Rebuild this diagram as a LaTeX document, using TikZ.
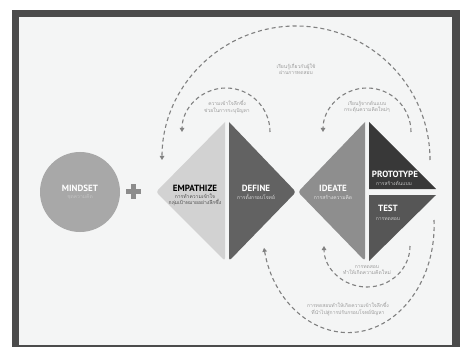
\documentclass[tikz,border=0pt]{standalone}
\usepackage{fontspec}
\setmainfont{PT Sans}
\newfontfamily\thaifont[Script=Thai]{Loma}
\usetikzlibrary{arrows.meta}

\definecolor{framegray}{HTML}{4B4B4B}
\definecolor{paper}{HTML}{F4F5F5}
\definecolor{loopgray}{HTML}{808080}
\definecolor{notegray}{HTML}{9A9A9A}
\definecolor{mindgray}{HTML}{A8A8A8}
\definecolor{plusgray}{HTML}{8C8C8C}
\definecolor{empgray}{HTML}{D2D2D2}
\definecolor{defgray}{HTML}{626262}
\definecolor{ideagray}{HTML}{8E8E8E}
\definecolor{protogray}{HTML}{383838}
\definecolor{testgray}{HTML}{565656}

\tikzset{
  loopline/.style={draw=loopgray, line width=1.1pt, dash pattern=on 4pt off 3pt},
  looparrow/.style={loopline, -{Triangle[length=4pt,width=4.5pt]}},
  phase/.style={font=\bfseries\fontsize{9}{9}\selectfont, inner sep=0pt},
  sub/.style={font=\thaifont\fontsize{5}{6.5}\selectfont, align=center, inner sep=0pt},
  note/.style={sub, text=notegray},
}

\begin{document}
\begin{tikzpicture}[x=1pt,y=-1pt]
\useasboundingbox (0,0) rectangle (462,347);

% frame
\fill[white] (0,0) rectangle (462,347);
\fill[framegray] (12,10) rectangle (460,347);
\fill[paper] (19,17) rectangle (452,345);

% mindset and plus
\fill[mindgray] (80,192) circle[radius=40];
\fill[plusgray] (126,189) rectangle (141,194);
\fill[plusgray] (131,184) rectangle (136,199);

% the two diamonds
\fill[empgray, rounded corners=3pt] (225,122) -- (156,192) -- (225,261) [sharp corners] -- cycle;
\fill[defgray, rounded corners=3pt] (229,122) -- (229,261) -- (296,192) [sharp corners] -- cycle;
\fill[ideagray, rounded corners=3pt] (365,122) -- (365,261) -- (298,192) [sharp corners] -- cycle;
\fill[protogray] (369,122) -- (369,189) -- (436,189) -- cycle;
\fill[testgray] (369,195) -- (436,195) -- (369,261) -- cycle;

% labels
\node[phase, text=white] (mindset) at (80,188) {MINDSET};
\node[sub, text=mindgray!70!white] (mindsetsub) at (80,197) {ชุดความคิด};
\node[phase, text=black] (empathize) at (195,188) {EMPATHIZE};
\node[sub, text=black!70] (empathizesub) at (195,200) {การทำความเข้าใจ\\กลุ่มเป้าหมายอย่างลึกซึ้ง};
\node[phase, text=white] (define) at (256,188) {DEFINE};
\node[sub, text=white!75!defgray] (definesub) at (256,197) {การตั้งกรอบโจทย์};
\node[phase, text=white] (ideate) at (333,188) {IDEATE};
\node[sub, text=white!75!ideagray] (ideatesub) at (333,197) {การสร้างความคิด};
\node[phase, text=white] (prototype) at (395,174) {PROTOTYPE};
\node[sub, text=white!70!protogray] (prototypesub) at (394,183) {การสร้างต้นแบบ};
\node[phase, text=white] (test) at (388,208) {TEST};
\node[sub, text=white!70!testgray] (testsub) at (388,219) {การทดสอบ};

% loops
\coordinate (bigtop) at (430,160);
\coordinate (empdef) at (270,132);
\coordinate (ideaproto) at (411,132);
\coordinate (testidea) at (410,246);
\coordinate (bigbottom) at (434,220);

\draw[looparrow] (bigtop) arc[start angle=0, end angle=-180, radius=134];
\draw[looparrow] (empdef) arc[start angle=0, end angle=-180, radius=44];
\draw[looparrow] (ideaproto) arc[start angle=0, end angle=-180, radius=44];
\draw[looparrow] (testidea) arc[start angle=0, end angle=180, x radius=43, y radius=41];
\draw[looparrow] (bigbottom) arc[start angle=-3, end angle=168, x radius=86, y radius=107];

% loop notes
\node[note] (topnote) at (296,69) {เรียนรู้เกี่ยวกับผู้ใช้\\ผ่านการทดสอบ};
\node[note] (empnote) at (227,107) {ความเข้าใจลึกซึ้ง\\ช่วยในการระบุปัญหา};
\node[note] (protonote) at (367,107) {เรียนรู้จากต้นแบบ\\กระตุ้นความคิดใหม่ๆ};
\node[note] (testnote) at (367,270) {การทดสอบ\\ทำให้เกิดความคิดใหม่};
\node[note] (bottomnote) at (348,309) {การทดสอบทำให้เกิดความเข้าใจลึกซึ้ง\\ที่นำไปสู่การปรับกรอบโจทย์ปัญหา};
\end{tikzpicture}
\end{document}
